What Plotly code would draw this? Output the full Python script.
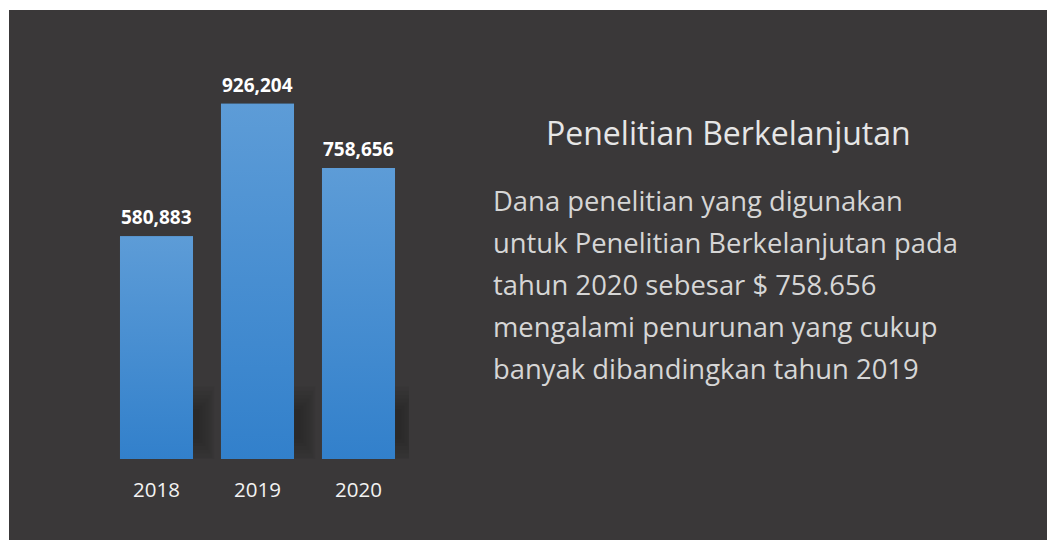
import plotly.graph_objects as go

years = ["2018", "2019", "2020"]
values = [580883, 926204, 758656]
title_text = "Penelitian Berkelanjutan"
body_lines = [
    "Dana penelitian yang digunakan",
    "untuk Penelitian Berkelanjutan pada",
    "tahun 2020 sebesar $ 758.656",
    "mengalami penurunan yang cukup",
    "banyak dibandingkan tahun 2019",
]

W, H = 1047, 540
PANEL = "#3a3839"
L, R_PX, B_PX, T_PX = 106, 409, 459, 40
plot_w = R_PX - L
plot_h = B_PX - T_PX
ymax = plot_h / 3.836e-4
bargap = 0.277
half = (1 - bargap) / 2

fig = go.Figure()
xs = list(range(len(years)))

fig.add_trace(go.Bar(
    x=xs, y=values, width=1 - bargap,
    marker=dict(color="#4a8fd2", line=dict(width=0)),
    hoverinfo="skip", showlegend=False,
))

# vertical gradient overlay for each bar
for i, v in enumerate(values):
    fig.add_trace(go.Scatter(
        x=[i - half, i + half, i + half, i - half, i - half],
        y=[0, 0, v, v, 0],
        mode="lines", line=dict(width=0), fill="toself",
        fillgradient=dict(type="vertical",
                          colorscale=[[0, "#3280cb"], [1, "#5d9cd7"]]),
        hoverinfo="skip", showlegend=False,
    ))

# dark panel (white strip at top/left like the reference)
shapes = [dict(
    type="rect", xref="paper", yref="paper", layer="below",
    x0=(9 - L) / plot_w, x1=(W + 20 - L) / plot_w,
    y0=(B_PX - H - 20) / plot_h, y1=(B_PX - 10) / plot_h,
    fillcolor=PANEL, line=dict(width=0),
)]
# soft shadows behind lower part of bars (decorative)
cy = 0.083 * ymax
for i, v in enumerate(values):
    x1 = i + half
    for ext, hh in [(0.21, 0.09), (0.19, 0.08), (0.17, 0.07), (0.15, 0.061),
                    (0.12, 0.052), (0.09, 0.044), (0.06, 0.036)]:
        shapes.append(dict(
            type="rect", xref="x", yref="y", layer="below",
            x0=i, x1=x1 + ext, y0=cy - hh * ymax, y1=cy + hh * ymax,
            fillcolor="rgba(22,21,22,0.075)", line=dict(width=0),
        ))

annotations = [dict(
    text=title_text, xref="paper", yref="paper",
    x=(728 - L) / plot_w, y=(B_PX - 133) / plot_h,
    xanchor="center", yanchor="middle", showarrow=False,
    font=dict(family="Open Sans", size=32, color="#e6e6e6"),
)]
for j, line in enumerate(body_lines):
    annotations.append(dict(
        text=line, xref="paper", yref="paper",
        x=(491 - L) / plot_w, y=(B_PX - (200 + 42 * j)) / plot_h,
        xanchor="left", yanchor="middle", showarrow=False,
        font=dict(family="Open Sans", size=27.4, color="#d6d6d6"),
    ))
for i, v in enumerate(values):
    annotations.append(dict(
        text=f"{v:,}", x=i, y=v, xref="x", yref="y",
        xanchor="center", yanchor="bottom", showarrow=False, yshift=4,
        font=dict(family="Open Sans", size=19, color="white", weight="bold"),
    ))

fig.update_layout(
    width=W, height=H,
    margin=dict(l=L, r=W - R_PX, t=T_PX, b=H - B_PX, pad=0),
    paper_bgcolor="white", plot_bgcolor="rgba(0,0,0,0)",
    shapes=shapes, annotations=annotations,
    bargap=bargap,
    xaxis=dict(range=[-0.5, 2.5], tickvals=xs, ticktext=years,
               showgrid=False, zeroline=False, showline=False, ticks="",
               ticklabelstandoff=16,
               tickfont=dict(family="Open Sans", size=20.5, color="#f2f2f2")),
    yaxis=dict(range=[0, ymax], visible=False, showgrid=False, zeroline=False),
)

fig.write_html(
    "out.html",
    config={"displayModeBar": False},
    post_script="document.body.style.margin='0';document.body.style.overflow='hidden';",
)
